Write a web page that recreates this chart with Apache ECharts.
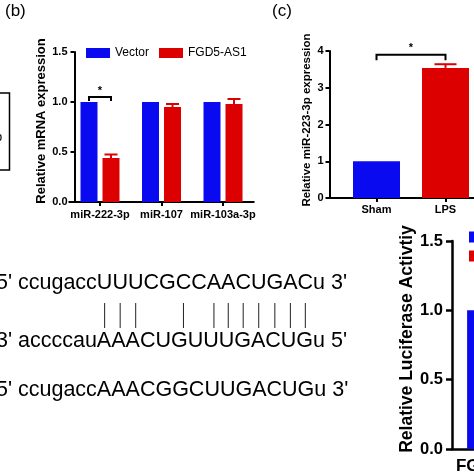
<!DOCTYPE html>
<html><head><meta charset="utf-8">
<script src="https://cdn.jsdelivr.net/npm/echarts@6/dist/echarts.min.js"></script>
<style>html,body{margin:0;padding:0;background:#fff}#c{width:474px;height:474px}</style>
</head><body><div id="c"></div>
<script>
const FONT = '"Liberation Sans", Arial, Helvetica, sans-serif';
const BLUE = '#0a0af0', RED = '#dc0000';

// ---- panel (b) ----
const bCategories = ['miR-222-3p', 'miR-107', 'miR-103a-3p'];
const bSeriesNames = ['Vector', 'FGD5-AS1'];
const bVector = [1.0, 1.0, 1.0];
const bFGD5 = [0.44, 0.95, 0.98];
const bFGD5Err = [0.035, 0.03, 0.05];
const bTicks = [0, 0.5, 1.0, 1.5];
const bSig = [[0, 1.05, 1.01, '*']]; // category, bracket level, drop, label

// ---- panel (c) ----
const cCategories = ['Sham', 'LPS'];
const cValues = [1.0, 3.54];
const cErr = [0, 0.1];
const cTicks = [0, 1, 2, 3, 4];
const cSig = [[0, 1, 3.9, 3.75, '*']]; // from cat, to cat, level, drop, label

// ---- panel (d) ----
const dCategories = ['FGD5-AS1'];
const dSeriesNames = ['miR-NC', 'miR-223-3p mimic'];
const dNC = [1.0];
const dMimic = [0.45];
const dTicks = [0, 0.5, 1.0, 1.5];

// ---- sequences ----
const seqLines = [
  {pre: "5' ", low: 'ccugacc', caps: 'UUUCGCCAACUGAC', tail: "u 3'"},
  {pre: "3' ", low: 'accccau', caps: 'AAACUGUUUGACUG', tail: "u 5'"},
  {pre: "5' ", low: 'ccugacc', caps: 'AAACGGCUUGACUG', tail: "u 3'"}
];
const pairIdx = [0, 1, 2, 5, 7, 8, 9, 10, 11, 12, 13];

// layout constants
const B = {left: 69.25, top: 52, width: 184.5, height: 150, yOff: -5.25, barW: 17, gap: 5};
const C = {left: 342, top: 51, width: 138, height: 147, yOff: 12.5, barW: 47};
const D = {left: 452, top: 241, width: 92, height: 208};
const SEQ = {font: '21.5px ' + FONT, x: 18, centers: [283, 341, 390], pairTop: 303, pairBot: 328};

const bOff = (B.barW + B.gap) / 2;

function axisCommon(size, bold) {
  return {
    axisLine: {show: true, lineStyle: {color: '#000', width: 2}},
    axisTick: {show: true, inside: false, length: 4, lineStyle: {color: '#000', width: 2}},
    axisLabel: {color: '#000', fontFamily: FONT, fontWeight: bold ? 'bold' : 'normal', fontSize: size},
    splitLine: {show: false}
  };
}

function errSeries(xi, vals, errs, offset, cap, color) {
  return {
    type: 'custom', xAxisIndex: xi, yAxisIndex: xi, silent: true, z: 3,
    data: vals.map((v, i) => [i, v, v + errs[i]]),
    renderItem(params, api) {
      if (api.value(2) <= api.value(1)) return null;
      const p0 = api.coord([api.value(0), api.value(1)]);
      const p1 = api.coord([api.value(0), api.value(2)]);
      const x = p0[0] + offset;
      return {type: 'group', children: [
        {type: 'line', shape: {x1: x, y1: p0[1], x2: x, y2: p1[1]}, style: {stroke: color, lineWidth: 2}},
        {type: 'line', shape: {x1: x - cap / 2, y1: p1[1], x2: x + cap / 2, y2: p1[1]}, style: {stroke: color, lineWidth: 2}}
      ]};
    }
  };
}

function bracket(x1, x2, level, drop, label) {
  return {type: 'group', children: [
    {type: 'polyline', shape: {points: [[x1, drop], [x1, level], [x2, level], [x2, drop]]},
      style: {stroke: '#000', lineWidth: 2, fill: null}},
    {type: 'text', style: {text: label, x: (x1 + x2) / 2, y: level - 1, align: 'center', verticalAlign: 'bottom',
      font: 'bold 11px ' + FONT, fill: '#000'}}
  ]};
}

const bSigSeries = {
  type: 'custom', xAxisIndex: 0, yAxisIndex: 0, silent: true, z: 4,
  data: bSig.map(s => [s[0], s[1], s[2]]),
  renderItem(params, api) {
    const c = api.coord([api.value(0), api.value(1)]);
    const d = api.coord([api.value(0), api.value(2)]);
    return bracket(c[0] - bOff, c[0] + bOff, c[1], d[1], bSig[params.dataIndex][3]);
  }
};
const cSigSeries = {
  type: 'custom', xAxisIndex: 1, yAxisIndex: 1, silent: true, z: 4,
  data: cSig.map(s => [s[0], s[2], s[3], s[1]]),
  renderItem(params, api) {
    const a = api.coord([api.value(0), api.value(1)]);
    const b = api.coord([api.value(3), api.value(1)]);
    const d = api.coord([api.value(0), api.value(2)]);
    return bracket(a[0], b[0], a[1], d[1], cSig[params.dataIndex][4]);
  }
};

// text measurement for sequences
const mctx = document.createElement('canvas').getContext('2d');
mctx.font = SEQ.font;
const tw = s => mctx.measureText(s).width;

const graphics = [];
// panel labels
graphics.push({type: 'text', left: 5, top: 3, style: {text: '(b)', font: '17px ' + FONT, fill: '#000'}});
graphics.push({type: 'text', left: 272, top: 3, style: {text: '(c)', font: '17px ' + FONT, fill: '#000'}});
// partial box from panel (a)
graphics.push({type: 'polyline', shape: {points: [[0, 93], [9.5, 93], [9.5, 170], [0, 170]]}, style: {stroke: '#000', lineWidth: 1.5, fill: null}});
graphics.push({type: 'text', x: -5, y: 137, style: {text: 'p', font: '13px ' + FONT, fill: '#000', verticalAlign: 'middle'}});
// (c) x-axis stub between y-axis and grid start
graphics.push({type: 'line', shape: {x1: C.left - C.yOff - 1, y1: C.top + C.height, x2: C.left, y2: C.top + C.height}, style: {stroke: '#000', lineWidth: 2}});
// sequences
seqLines.forEach((ln, i) => {
  const full = ln.pre + ln.low + ln.caps + ln.tail;
  const x0 = SEQ.x - tw(ln.pre);
  graphics.push({type: 'text', x: x0, y: SEQ.centers[i], style: {text: full, font: SEQ.font, fill: '#000', verticalAlign: 'middle'}});
});
{
  const ln = seqLines[0];
  const x0 = SEQ.x - tw(ln.pre);
  const capsStart = x0 + tw(ln.pre + ln.low);
  pairIdx.forEach(k => {
    const x = capsStart + tw(ln.caps.slice(0, k)) + tw(ln.caps[k]) / 2;
    graphics.push({type: 'line', shape: {x1: x, y1: SEQ.pairTop, x2: x, y2: SEQ.pairBot}, style: {stroke: '#222', lineWidth: 1}});
  });
}

const range = t => ({min: t[0], max: t[t.length - 1], interval: t[1] - t[0]});

const option = {
  animation: false,
  backgroundColor: '#fff',
  graphic: graphics,
  legend: [
    {data: bSeriesNames, left: 86, top: 47, padding: 0, itemWidth: 24, itemHeight: 10, itemGap: 10, icon: 'rect',
      textStyle: {fontFamily: FONT, fontSize: 12, color: '#000'}},
    {data: dSeriesNames, orient: 'vertical', left: 469, top: 231, padding: 0, itemWidth: 25, itemHeight: 11, itemGap: 7, icon: 'rect',
      textStyle: {fontFamily: FONT, fontSize: 12, color: '#000'}}
  ],
  grid: [
    {left: B.left, top: B.top, width: B.width, height: B.height, outerBoundsMode: 'none', containLabel: false},
    {left: C.left, top: C.top, width: C.width, height: C.height, outerBoundsMode: 'none', containLabel: false},
    {left: D.left, top: D.top, width: D.width, height: D.height, outerBoundsMode: 'none', containLabel: false}
  ],
  xAxis: [
    Object.assign(axisCommon(11, true), {type: 'category', gridIndex: 0, data: bCategories,
      axisTick: {show: true, alignWithLabel: true, length: 4, lineStyle: {color: '#000', width: 2}},
      axisLabel: {color: '#000', fontFamily: FONT, fontWeight: 'bold', fontSize: 11, margin: 7, interval: 0}}),
    Object.assign(axisCommon(11, true), {type: 'category', gridIndex: 1, data: cCategories,
      axisTick: {show: true, alignWithLabel: true, length: 4, lineStyle: {color: '#000', width: 2}},
      axisLabel: {color: '#000', fontFamily: FONT, fontWeight: 'bold', fontSize: 11, margin: 6, interval: 0}}),
    Object.assign(axisCommon(17, true), {type: 'category', gridIndex: 2, data: dCategories,
      axisLine: {show: true, lineStyle: {color: '#000', width: 2.5}},
      axisTick: {show: true, alignWithLabel: true, length: 5, lineStyle: {color: '#000', width: 2.5}},
      axisLabel: {color: '#000', fontFamily: FONT, fontWeight: 'bold', fontSize: 17, margin: 9, interval: 0}})
  ],
  yAxis: [
    Object.assign(axisCommon(11, true), range(bTicks), {type: 'value', gridIndex: 0, offset: B.yOff,
      name: 'Relative mRNA expression', nameLocation: 'middle', nameRotate: 90, nameGap: 25,
      nameTextStyle: {fontFamily: FONT, fontWeight: 'bold', fontSize: 13, color: '#000', padding: [0, 0, 0, 12]},
      axisLabel: {color: '#000', fontFamily: FONT, fontWeight: 'bold', fontSize: 11, margin: 7, formatter: v => v.toFixed(1)}}),
    Object.assign(axisCommon(11, true), range(cTicks), {type: 'value', gridIndex: 1, offset: C.yOff,
      name: 'Relative miR-223-3p expression', nameLocation: 'middle', nameRotate: 90, nameGap: 17,
      nameTextStyle: {fontFamily: FONT, fontWeight: 'bold', fontSize: 11.5, color: '#000', padding: [0, 0, 0, 9]},
      axisLabel: {color: '#000', fontFamily: FONT, fontWeight: 'bold', fontSize: 11, margin: 6}}),
    Object.assign(axisCommon(16.5, true), range(dTicks), {type: 'value', gridIndex: 2,
      name: 'Relative Luciferase Activtiy', nameLocation: 'middle', nameRotate: 90, nameGap: 33,
      nameTextStyle: {fontFamily: FONT, fontWeight: 'bold', fontSize: 17.5, color: '#000', padding: [0, 0, 0, 12]},
      axisLine: {show: true, lineStyle: {color: '#000', width: 2.5}},
      axisTick: {show: true, length: 6, lineStyle: {color: '#000', width: 2.5}},
      axisLabel: {color: '#000', fontFamily: FONT, fontWeight: 'bold', fontSize: 16.5, margin: 9, formatter: v => v.toFixed(1)}})
  ],
  series: [
    {name: bSeriesNames[0], type: 'bar', xAxisIndex: 0, yAxisIndex: 0, data: bVector, barWidth: B.barW, barGap: (B.gap / B.barW * 100) + '%', itemStyle: {color: BLUE}},
    {name: bSeriesNames[1], type: 'bar', xAxisIndex: 0, yAxisIndex: 0, data: bFGD5, barWidth: B.barW, itemStyle: {color: RED}},
    errSeries(0, bFGD5, bFGD5Err, bOff, 13, RED),
    bSigSeries,
    {name: 'c', type: 'bar', xAxisIndex: 1, yAxisIndex: 1, barWidth: C.barW,
      data: cValues.map((v, i) => ({value: v, itemStyle: {color: i === 0 ? BLUE : RED}}))},
    errSeries(1, cValues, cErr, 0, 22, RED),
    cSigSeries,
    {name: dSeriesNames[0], type: 'bar', xAxisIndex: 2, yAxisIndex: 2, data: dNC, barWidth: 30, barGap: '6%', itemStyle: {color: BLUE}},
    {name: dSeriesNames[1], type: 'bar', xAxisIndex: 2, yAxisIndex: 2, data: dMimic, barWidth: 30, itemStyle: {color: RED}}
  ]
};

const chart = echarts.init(document.getElementById('c'), null, {renderer: 'canvas'});
chart.setOption(option);
</script>
</body></html>
